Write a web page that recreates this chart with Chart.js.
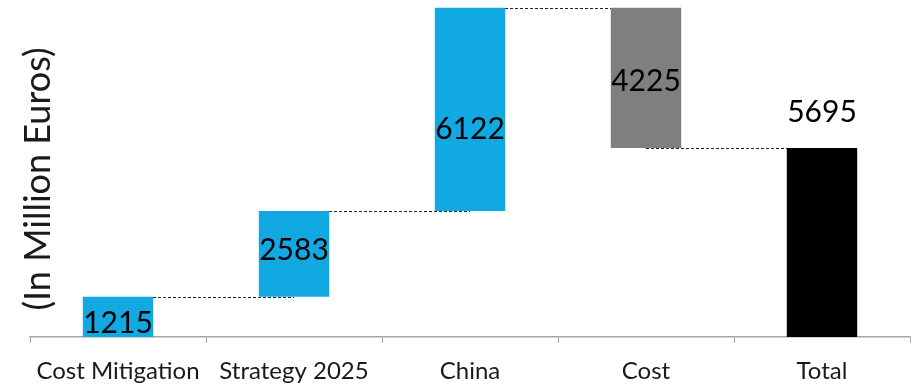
<!DOCTYPE html>
<html>
<head>
<meta charset="utf-8">
<script src="https://cdn.jsdelivr.net/npm/chart.js@4.4.1/dist/chart.umd.min.js"></script>
<style>
    html, body { margin: 0; padding: 0; background: #fff; }
    #wrap { width: 917px; height: 386px; }
</style>
</head>
<body>
<div id="wrap"><canvas id="chart1"></canvas></div>
<script>
    const categories = ['Cost Mitigation', 'Strategy 2025', 'China', 'Cost', 'Total'];
    const changes = [1215, 2583, 6122, -4225];
    const total = 5695;
    const barColors = ['#12a9e3', '#12a9e3', '#12a9e3', '#7f7f7f', '#000000'];

    // build floating [start, end] pairs for the waterfall
    let running = 0;
    const ranges = [];
    const labels = [];
    changes.forEach(v => {
        ranges.push([running, running + v]);
        labels.push(Math.abs(v));
        running += v;
    });
    ranges.push([0, total]);
    labels.push(total);

    const labelFont = '30px Lato';
    // small vertical nudges for the value labels (px)
    const labelNudge = [6, -3, 20, 4, 0];

    const waterfallExtras = {
        id: 'waterfallExtras',
        beforeDatasetsDraw(chart) {
            const ctx = chart.ctx;
            const meta = chart.getDatasetMeta(0);
            const y = chart.scales.y;
            ctx.save();
            ctx.strokeStyle = '#222';
            ctx.lineWidth = 1;
            ctx.setLineDash([3, 2]);
            for (let i = 0; i < ranges.length - 1; i++) {
                const level = ranges[i][1];
                const py = Math.round(y.getPixelForValue(level)) + 0.5;
                ctx.beginPath();
                ctx.moveTo(meta.data[i].x, py);
                ctx.lineTo(meta.data[i + 1].x, py);
                ctx.stroke();
            }
            ctx.restore();
        },
        afterDatasetsDraw(chart) {
            const ctx = chart.ctx;
            const meta = chart.getDatasetMeta(0);
            const y = chart.scales.y;
            ctx.save();
            ctx.font = labelFont;
            ctx.fillStyle = '#000';
            ctx.textAlign = 'center';
            ctx.textBaseline = 'middle';
            labels.forEach((txt, i) => {
                const bar = meta.data[i];
                let py;
                if (i === labels.length - 1) {
                    py = y.getPixelForValue(ranges[i][1]) - 36;
                } else {
                    py = (y.getPixelForValue(ranges[i][0]) + y.getPixelForValue(ranges[i][1])) / 2;
                }
                ctx.fillText(String(txt), bar.x, py + labelNudge[i]);
            });

            // y axis title, drawn over the left edge like the original
            ctx.font = '36px Lato';
            ctx.fillStyle = '#1a1a1a';
            ctx.translate(38, 179);
            ctx.rotate(-Math.PI / 2);
            ctx.fillText('(In Million Euros)', 0, 0);
            ctx.restore();
        }
    };

    const Chart1 = new Chart(document.getElementById('chart1'), {
        type: 'bar',
        data: {
            labels: categories,
            datasets: [{
                data: ranges,
                backgroundColor: barColors,
                borderWidth: 0,
                categoryPercentage: 1,
                barPercentage: 0.4
            }]
        },
        options: {
            responsive: true,
            maintainAspectRatio: false,
            animation: false,
            layout: {
                padding: { left: 30, right: 7, top: 5, bottom: 0 }
            },
            plugins: {
                legend: { display: false },
                tooltip: { enabled: false }
            },
            scales: {
                x: {
                    afterFit(scale) {
                        scale.height = 49;
                    },
                    grid: {
                        offset: true,
                        drawOnChartArea: false,
                        drawTicks: true,
                        tickLength: 6,
                        color: '#a6a6a6'
                    },
                    border: { color: '#a6a6a6', width: 1.5 },
                    ticks: {
                        color: '#1a1a1a',
                        font: { family: 'Lato', size: 24 },
                        padding: 14
                    }
                },
                y: {
                    display: false,
                    min: 0,
                    max: 10000
                }
            }
        },
        plugins: [waterfallExtras]
    });
</script>
</body>
</html>
